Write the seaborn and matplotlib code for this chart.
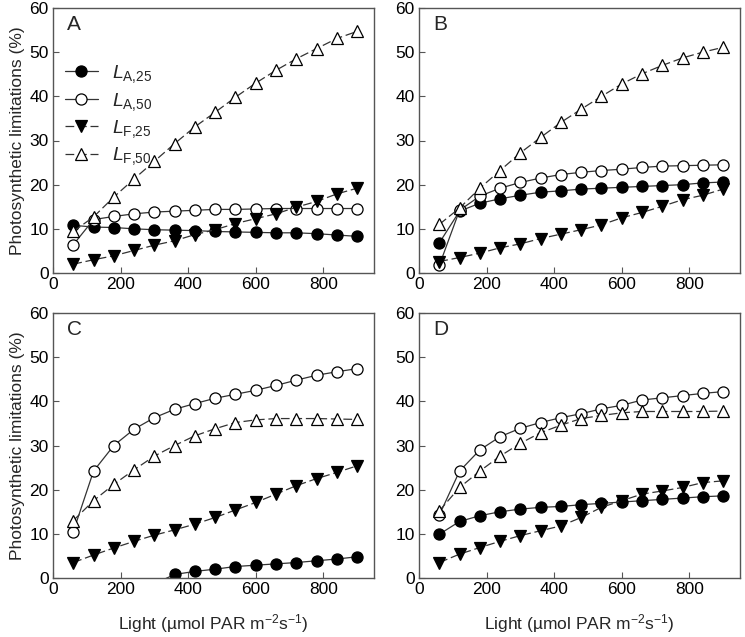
import numpy as np
import pandas as pd
import matplotlib
matplotlib.use("Agg")
import matplotlib.pyplot as plt
import seaborn as sns

sns.set_theme(style="ticks")
plt.rcParams['font.family'] = ['Liberation Sans', 'DejaVu Sans']
plt.rcParams['mathtext.fontset'] = 'custom'
plt.rcParams['mathtext.rm'] = 'Liberation Sans'
plt.rcParams['mathtext.it'] = 'Liberation Sans:italic'
plt.rcParams['mathtext.bf'] = 'Liberation Sans:bold'

light = [60, 120, 180, 240, 300, 360, 420, 480, 540, 600, 660, 720, 780, 840, 900]

# Panel A
A_LA25 = [10.8, 10.4, 10.3, 10.0, 9.8, 9.7, 9.6, 9.4, 9.3, 9.2, 9.1, 9.1, 8.9, 8.6, 8.3]
A_LA50 = [6.4, 12.1, 12.8, 13.4, 13.8, 14.0, 14.2, 14.4, 14.4, 14.5, 14.6, 14.6, 14.6, 14.6, 14.6]
A_LF25 = [2.0, 3.0, 3.9, 5.1, 6.3, 7.3, 8.7, 9.8, 11.2, 12.3, 13.4, 14.9, 16.2, 17.9, 19.2]
A_LF50 = [9.4, 12.7, 17.2, 21.3, 25.3, 29.3, 33.1, 36.4, 39.8, 43.0, 45.9, 48.5, 50.8, 53.1, 54.7]

# Panel B
B_LA25 = [6.8, 14.0, 15.8, 16.8, 17.6, 18.3, 18.6, 19.0, 19.2, 19.4, 19.6, 19.8, 20.0, 20.4, 20.6]
B_LA50 = [1.7, 14.2, 17.4, 19.2, 20.5, 21.5, 22.3, 22.8, 23.2, 23.5, 23.9, 24.2, 24.3, 24.4, 24.5]
B_LF25 = [2.6, 3.5, 4.5, 5.7, 6.6, 7.8, 8.8, 9.8, 10.9, 12.5, 13.7, 15.1, 16.6, 17.6, 19.0]
B_LF50 = [11.0, 14.7, 19.2, 23.2, 27.2, 30.7, 34.1, 37.1, 40.0, 42.8, 45.1, 47.0, 48.7, 50.0, 51.1]

# Panel C
C_LA25 = [np.nan, np.nan, np.nan, np.nan, -1.3, 0.8, 1.5, 2.0, 2.6, 2.9, 3.2, 3.5, 3.9, 4.3, 4.8]
C_LA50 = [10.5, 24.2, 30.0, 33.7, 36.3, 38.2, 39.5, 40.7, 41.6, 42.5, 43.6, 44.8, 45.9, 46.7, 47.4]
C_LF25 = [3.5, 5.2, 6.8, 8.3, 9.7, 10.9, 12.2, 13.7, 15.4, 17.1, 19.0, 20.9, 22.5, 23.9, 25.4]
C_LF50 = [13.0, 17.5, 21.2, 24.5, 27.6, 30.0, 32.2, 33.8, 35.2, 35.8, 36.1, 36.1, 36.1, 36.0, 35.9]

# Panel D
D_LA25 = [9.9, 12.8, 14.1, 15.0, 15.6, 16.0, 16.2, 16.6, 16.9, 17.2, 17.5, 17.8, 18.1, 18.4, 18.6]
D_LA50 = [14.2, 24.2, 29.0, 32.0, 33.9, 35.2, 36.3, 37.2, 38.3, 39.1, 40.3, 40.8, 41.3, 41.8, 42.2]
D_LF25 = [3.5, 5.4, 6.9, 8.3, 9.6, 10.7, 11.8, 13.7, 16.0, 17.5, 19.0, 19.7, 20.5, 21.6, 22.0]
D_LF50 = [15.2, 20.5, 24.2, 27.6, 30.5, 32.9, 34.6, 36.1, 36.8, 37.4, 37.7, 37.7, 37.7, 37.7, 37.8]

panel_letters = ["A", "B", "C", "D"]
series_names = ["LA25", "LA50", "LF25", "LF50"]
series_labels = [r"$L_{\mathrm{A{,}25}}$", r"$L_{\mathrm{A{,}50}}$",
                 r"$L_{\mathrm{F{,}25}}$", r"$L_{\mathrm{F{,}50}}$"]
panel_data = {
    "A": [A_LA25, A_LA50, A_LF25, A_LF50],
    "B": [B_LA25, B_LA50, B_LF25, B_LF50],
    "C": [C_LA25, C_LA50, C_LF25, C_LF50],
    "D": [D_LA25, D_LA50, D_LF25, D_LF50],
}
x_ticks = [0, 200, 400, 600, 800]
y_ticks = [0, 10, 20, 30, 40, 50, 60]

styles = {
    "LA25": dict(marker="o", markerfacecolor="black", linestyle="-", ms=8),
    "LA50": dict(marker="o", markerfacecolor="white", linestyle="-", ms=8),
    "LF25": dict(marker="v", markerfacecolor="black", linestyle=(0, (7, 3)), ms=8.5),
    "LF50": dict(marker="^", markerfacecolor="white", linestyle=(0, (7, 3)), ms=8.5),
}

W, H = 745, 637
fig = plt.figure(figsize=(W / 100, H / 100), dpi=100)
boxes = {
    "A": (53, 8, 374, 273),
    "B": (419, 8, 740, 273),
    "C": (53, 313, 374, 578),
    "D": (419, 313, 740, 578),
}
spine_c = "#555555"
for letter in panel_letters:
    l, t, r, b = boxes[letter]
    ax = fig.add_axes([l / W, 1 - b / H, (r - l) / W, (b - t) / H])
    rows = []
    for name, vals in zip(series_names, panel_data[letter]):
        for xv, yv in zip(light, vals):
            rows.append({"light": xv, "value": yv, "series": name})
    df = pd.DataFrame(rows)
    for name, lab in zip(series_names, series_labels):
        sub = df[df["series"] == name].dropna()
        st = styles[name]
        sns.lineplot(data=sub, x="light", y="value", ax=ax, estimator=None,
                     color="#333333", linewidth=0.9, marker=st["marker"],
                     markersize=st["ms"], markerfacecolor=st["markerfacecolor"],
                     markeredgecolor="black", markeredgewidth=0.9,
                     linestyle=st["linestyle"], label=lab, legend=False)
    ax.set_xlim(0, 950)
    ax.set_ylim(0, 60)
    ax.set_xticks(x_ticks)
    ax.set_yticks(y_ticks)
    ax.tick_params(direction="in", length=4, width=0.8, color=spine_c,
                   labelsize=12.5, labelcolor="black", pad=3)
    for sp in ax.spines.values():
        sp.set_color(spine_c)
        sp.set_linewidth(1.0)
    ax.set_xlabel("")
    ax.set_ylabel("")
    ax.text(0.045, 0.975, letter, transform=ax.transAxes, ha="left", va="top",
            fontsize=15)
    if letter in ("A", "C"):
        ax.set_ylabel("Photosynthetic limitations (%)", fontsize=12.5, labelpad=3)
    if letter in ("C", "D"):
        ax.set_xlabel("Light (µmol PAR m$^{-2}$s$^{-1}$)", fontsize=12.5, labelpad=11)
    if letter == "A":
        handles, labels = ax.get_legend_handles_labels()
        ax.legend(handles, labels, loc="upper left", bbox_to_anchor=(0.0, 0.835),
                  frameon=False, fontsize=14, handlelength=1.7, labelspacing=0.28,
                  handletextpad=0.75, borderaxespad=0.2)

fig.savefig("out.png", dpi=100)
